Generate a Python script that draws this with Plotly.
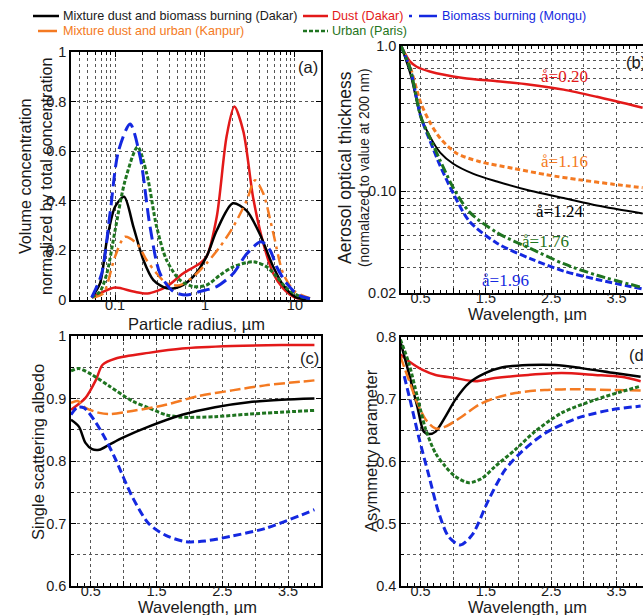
import plotly.graph_objects as go

W, H = 643, 615

# ---------------- colours ----------------
BLACK = "#000000"
RED = "#e31919"
ORANGE = "#f47a22"
BLUE = "#1428e0"
GREEN = "#1f7420"

# ---------------- panel (a): volume size distributions ----------------
r_black = [0.055, 0.068, 0.081, 0.1, 0.126, 0.16, 0.207, 0.267, 0.375, 0.527, 0.74, 1.04, 1.35, 2.04, 2.9, 4.08, 5.74, 7.4, 10, 13.5]
v_black = [0.01, 0.067, 0.24, 0.376, 0.416, 0.295, 0.16, 0.08, 0.047, 0.054, 0.094, 0.175, 0.28, 0.39, 0.36, 0.265, 0.134, 0.06, 0.013, 0.003]

r_red = [0.055, 0.068, 0.1, 0.16, 0.23, 0.375, 0.57, 0.88, 1.04, 1.35, 1.74, 2.12, 2.67, 3.44, 4.44, 5.74, 7.4, 10, 13.5]
v_red = [0.01, 0.027, 0.05, 0.034, 0.026, 0.054, 0.107, 0.148, 0.175, 0.335, 0.66, 0.78, 0.68, 0.41, 0.23, 0.107, 0.047, 0.01, 0.003]

r_orange = [0.057, 0.074, 0.1, 0.129, 0.174, 0.225, 0.29, 0.375, 0.527, 0.74, 1.04, 1.47, 2.06, 2.9, 3.6, 4.44, 5.74, 7.4, 10, 14.7]
v_orange = [0.01, 0.027, 0.175, 0.255, 0.228, 0.16, 0.107, 0.067, 0.06, 0.094, 0.148, 0.215, 0.295, 0.40, 0.483, 0.43, 0.27, 0.107, 0.034, 0.007]

r_blue = [0.055, 0.071, 0.088, 0.109, 0.147, 0.19, 0.245, 0.316, 0.445, 0.625, 0.88, 1.35, 2.06, 2.9, 4.2, 5.3, 6.26, 8.1, 10.9, 14.7]
v_blue = [0.01, 0.107, 0.35, 0.60, 0.71, 0.577, 0.295, 0.107, 0.034, 0.02, 0.034, 0.054, 0.107, 0.185, 0.235, 0.2, 0.134, 0.067, 0.02, 0.005]

r_green = [0.055, 0.068, 0.081, 0.1, 0.129, 0.178, 0.225, 0.29, 0.375, 0.527, 0.74, 1.04, 1.47, 2.06, 3.44, 4.84, 6.26, 8.1, 11.6, 14.7]
v_green = [0.01, 0.034, 0.107, 0.28, 0.48, 0.617, 0.51, 0.295, 0.16, 0.08, 0.054, 0.06, 0.10, 0.134, 0.154, 0.134, 0.094, 0.047, 0.013, 0.005]

# ---------------- panel (b): normalised AOT ----------------
wl_b_black = [0.2, 0.34, 0.5, 0.64, 0.8, 1.0, 1.31, 1.67, 2.18, 2.69, 3.2, 3.9]
aot_black = [1.0, 0.65, 0.33, 0.24, 0.185, 0.155, 0.132, 0.117, 0.101, 0.090, 0.080, 0.0705]

wl_b_red = [0.2, 0.34, 0.44, 0.64, 1.15, 1.67, 2.18, 2.69, 3.2, 3.9]
aot_red = [1.0, 0.78, 0.72, 0.668, 0.603, 0.572, 0.542, 0.501, 0.447, 0.376]

wl_b_orange = [0.2, 0.34, 0.5, 0.64, 0.8, 1.05, 1.41, 1.92, 2.43, 2.94, 3.45, 3.9]
aot_orange = [1.0, 0.72, 0.41, 0.30, 0.232, 0.183, 0.16, 0.144, 0.13, 0.12, 0.112, 0.106]

wl_b_green = [0.2, 0.34, 0.5, 0.64, 0.8, 1.0, 1.25, 1.67, 2.18, 2.69, 3.2, 3.9]
aot_green = [1.0, 0.70, 0.33, 0.235, 0.163, 0.106, 0.072, 0.052, 0.0405, 0.0318, 0.0265, 0.0218]

wl_b_blue = [0.2, 0.34, 0.5, 0.64, 0.8, 1.0, 1.25, 1.67, 2.18, 2.69, 3.2, 3.9]
aot_blue = [1.0, 0.70, 0.33, 0.225, 0.15, 0.097, 0.062, 0.044, 0.0345, 0.0283, 0.0248, 0.0213]

angstrom_labels = ["å=0.20", "å=1.16", "å=1.24", "å=1.76", "å=1.96"]
angstrom_x = [2.71, 2.71, 2.63, 2.42, 1.80]
angstrom_logy = [-0.213, -0.796, -1.14, -1.346, -1.614]
angstrom_colors = [RED, ORANGE, BLACK, GREEN, BLUE]

# ---------------- panel (c): single scattering albedo ----------------
wl_c_red = [0.2, 0.42, 0.58, 0.68, 0.88, 1.38, 1.89, 2.65, 3.4, 3.9]
ssa_red = [0.882, 0.901, 0.93, 0.954, 0.964, 0.973, 0.98, 0.984, 0.9855, 0.9855]

wl_c_green = [0.2, 0.32, 0.52, 0.78, 1.13, 1.38, 1.64, 1.89, 2.39, 2.9, 3.9]
ssa_green = [0.944, 0.948, 0.938, 0.92, 0.896, 0.885, 0.874, 0.87, 0.871, 0.875, 0.881]

wl_c_orange = [0.2, 0.3, 0.42, 0.63, 0.78, 1.13, 1.64, 2.14, 2.65, 3.15, 3.9]
ssa_orange = [0.893, 0.896, 0.885, 0.877, 0.875, 0.88, 0.89, 0.904, 0.913, 0.921, 0.929]

wl_c_black = [0.2, 0.32, 0.42, 0.52, 0.63, 0.78, 0.98, 1.38, 1.89, 2.39, 2.9, 3.4, 3.9]
ssa_black = [0.866, 0.855, 0.829, 0.819, 0.818, 0.826, 0.837, 0.855, 0.874, 0.886, 0.894, 0.898, 0.9]

wl_c_blue = [0.2, 0.3, 0.4, 0.58, 0.73, 0.88, 1.13, 1.38, 1.64, 1.94, 2.24, 2.65, 3.15, 3.9]
ssa_blue = [0.874, 0.886, 0.885, 0.861, 0.834, 0.802, 0.743, 0.70, 0.681, 0.671, 0.672, 0.68, 0.692, 0.722]

# ---------------- panel (d): asymmetry parameter ----------------
wl_d_black = [0.19, 0.32, 0.45, 0.55, 0.63, 0.73, 0.88, 1.03, 1.24, 1.49, 1.74, 2.15, 2.56, 2.96, 3.47, 3.87]
g_black = [0.793, 0.742, 0.688, 0.648, 0.644, 0.648, 0.672, 0.699, 0.726, 0.742, 0.751, 0.755, 0.755, 0.75, 0.742, 0.736]

wl_d_red = [0.19, 0.32, 0.53, 0.73, 1.03, 1.34, 1.64, 2.15, 2.66, 3.17, 3.57, 3.87]
g_red = [0.772, 0.761, 0.747, 0.739, 0.734, 0.729, 0.734, 0.739, 0.742, 0.739, 0.736, 0.729]

wl_d_orange = [0.19, 0.32, 0.45, 0.58, 0.73, 0.88, 1.13, 1.39, 1.64, 1.95, 2.4, 2.91, 3.42, 3.87]
g_orange = [0.769, 0.731, 0.694, 0.667, 0.653, 0.656, 0.672, 0.691, 0.702, 0.71, 0.715, 0.716, 0.715, 0.714]

wl_d_green = [0.19, 0.32, 0.45, 0.58, 0.73, 0.88, 1.03, 1.24, 1.44, 1.64, 1.95, 2.25, 2.66, 3.17, 3.57, 3.87]
g_green = [0.796, 0.758, 0.704, 0.651, 0.613, 0.592, 0.576, 0.566, 0.573, 0.592, 0.619, 0.648, 0.678, 0.699, 0.712, 0.721]

wl_d_blue = [0.25, 0.35, 0.47, 0.63, 0.78, 0.93, 1.11, 1.29, 1.54, 1.79, 2.05, 2.4, 2.91, 3.42, 3.87]
g_blue = [0.737, 0.694, 0.64, 0.576, 0.517, 0.479, 0.466, 0.482, 0.538, 0.586, 0.616, 0.645, 0.67, 0.683, 0.689]

series_names = {
    "black": "Mixture dust and biomass burning (Dakar)",
    "red": "Dust (Dakar)",
    "blue": "Biomass burning (Mongu)",
    "orange": "Mixture dust and urban (Kanpur)",
    "green": "Urban (Paris)",
}


def fx(p):
    return p / W


def fy(p):
    return 1 - p / H


fig = go.Figure()


def add(x, y, color, dash, axis, name, width=2.5):
    fig.add_trace(go.Scatter(
        x=x, y=y, mode="lines", name=name, showlegend=False,
        line=dict(color=color, width=width, dash=dash, shape="spline", smoothing=0.8),
        xaxis="x" + axis, yaxis="y" + axis, hoverinfo="skip"))


# (a)
add(r_red, v_red, RED, "solid", "", series_names["red"])
add(r_black, v_black, BLACK, "solid", "", series_names["black"])
add(r_orange, v_orange, ORANGE, "11px,5px,3px,5px", "", series_names["orange"])
add(r_green, v_green, GREEN, "4px,2px", "", series_names["green"], 3)
add(r_blue, v_blue, BLUE, "13px,6px", "", series_names["blue"], 3)

# (b)
add(wl_b_red, aot_red, RED, "solid", "2", series_names["red"])
add(wl_b_orange, aot_orange, ORANGE, "5px,3px", "2", series_names["orange"], 3)
add(wl_b_black, aot_black, BLACK, "solid", "2", series_names["black"], 2)
add(wl_b_blue, aot_blue, BLUE, "7px,3px", "2", series_names["blue"], 3)
add(wl_b_green, aot_green, GREEN, "9px,3px,3px,3px", "2", series_names["green"], 3)

# (c)
add(wl_c_red, ssa_red, RED, "solid", "3", series_names["red"])
add(wl_c_green, ssa_green, GREEN, "4px,2px", "3", series_names["green"], 3)
add(wl_c_orange, ssa_orange, ORANGE, "11px,4px", "3", series_names["orange"])
add(wl_c_black, ssa_black, BLACK, "solid", "3", series_names["black"])
add(wl_c_blue, ssa_blue, BLUE, "8px,4px", "3", series_names["blue"], 3)

# (d)
add(wl_d_red, g_red, RED, "solid", "4", series_names["red"])
add(wl_d_black, g_black, BLACK, "solid", "4", series_names["black"])
add(wl_d_orange, g_orange, ORANGE, "11px,4px", "4", series_names["orange"])
add(wl_d_green, g_green, GREEN, "4px,2px", "4", series_names["green"], 3)
add(wl_d_blue, g_blue, BLUE, "8px,4px", "4", series_names["blue"], 3)

TICKFONT = dict(family="Liberation Sans, Arial, sans-serif", size=14.5, color="#1a1a1a")
base = dict(showline=True, linecolor="black", linewidth=1.5, ticks="inside", ticklen=5,
            tickcolor="black", showgrid=True, gridcolor="#555555", griddash="dot",
            gridwidth=1, zeroline=False, tickfont=TICKFONT, layer="below traces",
            automargin=False)
xbase = dict(base, ticklabelstandoff=-9)
ybase = dict(base)

wl_major = [0.5, 1.0, 1.5, 2.0, 2.5, 3.0, 3.5]
wl_text = ["0.5", "", "1.5", "", "2.5", "", "3.5"]
wl_minor = dict(tickmode="linear", tick0=0.2, dtick=0.1, ticks="inside", ticklen=3,
                tickcolor="black", showgrid=False)

log_minor_a = [m * 10 ** e for e in (-2, -1, 0) for m in range(2, 10)]
log_minor_b = [m * 10 ** e for e in (-2, -1) for m in range(2, 10)]

fig.update_layout(
    width=W, height=H, autosize=False,
    margin=dict(l=0, r=0, t=0, b=0, pad=0),
    paper_bgcolor="white", plot_bgcolor="white",
    font=dict(family="Liberation Sans, Arial, sans-serif", color="#1a1a1a"),
    xaxis=dict(xbase, type="log", range=[-1.49, 1.29], domain=[fx(71), fx(321)], anchor="y",
               tickmode="array", tickvals=[0.1, 1, 10], ticktext=["0.1", "1", "10"],
               mirror="allticks",
               minor=dict(tickmode="array", tickvals=log_minor_a, ticks="inside", ticklen=3,
                          tickcolor="black", showgrid=True, gridcolor="#555555",
                          griddash="dot", gridwidth=1)),
    yaxis=dict(ybase, range=[0, 1], domain=[fy(300), fy(52)], anchor="x",
               tickmode="array", tickvals=[0, 0.2, 0.4, 0.6, 0.8, 1.0],
               ticktext=["0", "0.2", "0.4", "0.6", "0.8", "1"], mirror="allticks"),
    xaxis2=dict(xbase, range=[0.2, 3.906], domain=[fx(401), 1.0], anchor="y2",
                tickmode="array", tickvals=wl_major, ticktext=wl_text, mirror="allticks",
                minor=wl_minor),
    yaxis2=dict(ybase, type="log", range=[-1.69897, 0], domain=[fy(293), fy(46)], anchor="x2",
                tickmode="array", tickvals=[0.02, 0.1, 1.0], ticktext=["0.02", "0.10", "1.0"],
                mirror=False,
                minor=dict(tickmode="array", tickvals=log_minor_b, ticks="inside", ticklen=3,
                           tickcolor="black", showgrid=True, gridcolor="#555555",
                           griddash="dot", gridwidth=1)),
    xaxis3=dict(xbase, range=[0.2, 4.0], domain=[fx(71), fx(321)], anchor="y3",
                tickmode="array", tickvals=wl_major, ticktext=wl_text, mirror="allticks",
                minor=wl_minor),
    yaxis3=dict(ybase, range=[0.6, 1.0], domain=[fy(586), fy(336)], anchor="x3",
                tickmode="array", tickvals=[0.6, 0.7, 0.8, 0.9, 1.0],
                ticktext=["0.6", "0.7", "0.8", "0.9", "1"], mirror="allticks",
                minor=dict(tickmode="array", tickvals=[0.65, 0.75, 0.85, 0.95], ticks="inside",
                           ticklen=3, tickcolor="black", showgrid=True, gridcolor="#555555",
                           griddash="dot", gridwidth=1)),
    xaxis4=dict(xbase, range=[0.2, 3.906], domain=[fx(401), 1.0], anchor="y4",
                tickmode="array", tickvals=wl_major, ticktext=wl_text, mirror="allticks",
                minor=wl_minor),
    yaxis4=dict(ybase, range=[0.4, 0.8], domain=[fy(586), fy(337)], anchor="x4",
                tickmode="array", tickvals=[0.4, 0.5, 0.6, 0.7, 0.8],
                ticktext=["0.4", "0.5", "0.6", "0.7", "0.8"], mirror=False,
                minor=dict(tickmode="array", tickvals=[0.45, 0.55, 0.65, 0.75], ticks="inside",
                           ticklen=3, tickcolor="black", showgrid=True, gridcolor="#555555",
                           griddash="dot", gridwidth=1)),
)

ann = []
TF = "Liberation Sans, Arial, sans-serif"


def text(x, y, s, size=16.5, color="#1a1a1a", angle=0, xanchor="center", family=TF):
    ann.append(dict(x=fx(x), y=fy(y), xref="paper", yref="paper", text=s, showarrow=False,
                    textangle=angle, xanchor=xanchor, yanchor="middle",
                    font=dict(family=family, size=size, color=color)))


# axis titles
text(36, 176, "Volume concentration<br>normalized by total concentration", 16.2, angle=-90)
text(196, 324, "Particle radius, µm")
text(345, 168, "Aerosol optical thickness", 17.5, angle=-90)
text(364, 168, "(normalazed to value at 200 nm)", 13.8, angle=-90)
text(527, 314, "Wavelength, µm")
text(38, 452, "Single scattering albedo", 16.5, angle=-90)
text(197, 607, "Wavelength, µm")
text(371, 450, "Asymmetry parameter", 16.5, angle=-90)
text(527, 607, "Wavelength, µm")

# panel letters
text(308, 67, "(a)", 16.5)
text(624, 62, "(b)", 16.5, xanchor="left")
text(309, 358, "(c)", 16.5)
text(627, 355, "(d)", 16.5, xanchor="left")

# angstrom exponents in panel (b)
for s, xv, lv, c in zip(angstrom_labels, angstrom_x, angstrom_logy, angstrom_colors):
    ann.append(dict(x=xv, y=lv, xref="x2", yref="y2", text=s, showarrow=False,
                    font=dict(family="Liberation Serif, DejaVu Serif, serif", size=17, color=c)))

# legend (drawn manually to match the two-row layout)
legend_rows = [
    ("black", 33, 59, 16, "solid", 61),
    ("red", 303, 328, 16, "solid", 330),
    ("blue", 409, 437, 16, "3px,7px,18px", 440),
    ("orange", 38, 57, 31, "solid", 61),
    ("green", 303, 328, 31, "4px,2px", 330),
]
cmap = {"black": BLACK, "red": RED, "blue": BLUE, "orange": ORANGE, "green": GREEN}
shapes = []
for key, x0, x1, yy, dash, tx in legend_rows:
    shapes.append(dict(type="line", xref="paper", yref="paper", x0=fx(x0), x1=fx(x1),
                       y0=fy(yy), y1=fy(yy), line=dict(color=cmap[key], width=2.5, dash=dash)))
    text(tx, yy, series_names[key], 12.6, color=cmap[key] if key != "black" else "#1a1a1a",
         xanchor="left")

fig.update_layout(annotations=ann, shapes=shapes)
fig.write_html(
    "out.html",
    config={"displayModeBar": False},
    post_script="document.body.style.margin='0';document.body.style.overflow='hidden';"
                "document.documentElement.style.overflow='hidden';",
)
